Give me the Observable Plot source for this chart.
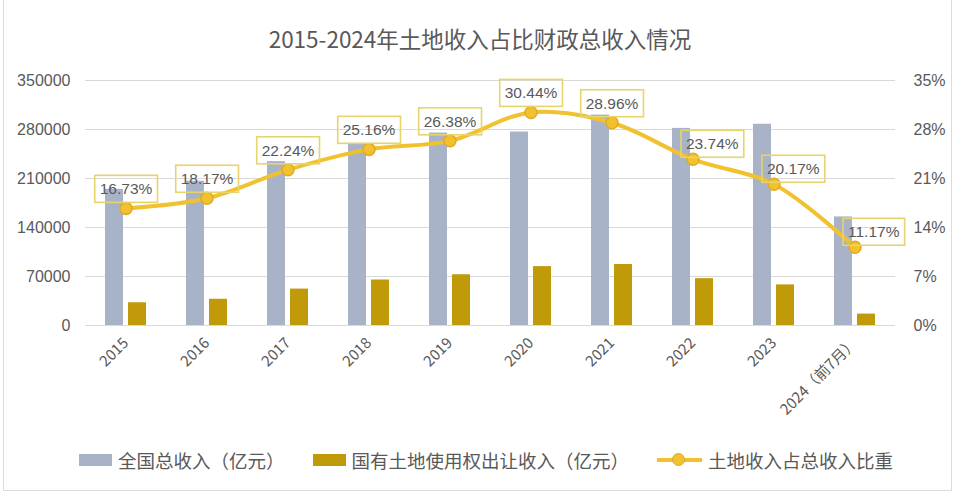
<!DOCTYPE html>
<html><head><meta charset="utf-8">
<script src="https://cdn.jsdelivr.net/npm/d3@7"></script>
<script src="https://cdn.jsdelivr.net/npm/@observablehq/plot@0.6"></script>
<style>
body{margin:0;background:#fff;}
#wrap{position:relative;width:960px;height:495px;overflow:hidden;font-family:"Noto Sans CJK SC","Noto Sans",sans-serif;background:#fff;}
#frame{position:absolute;left:3px;top:-2px;width:949px;height:493px;border:1px solid #dcdcdc;border-top:none;box-sizing:border-box;}
#title{position:absolute;top:23px;left:0;width:960px;text-align:center;font-size:22.5px;line-height:30px;color:#595959;}
#chart{position:absolute;top:65px;left:0;}
#legend{position:absolute;top:447px;left:79px;display:flex;align-items:center;font-size:18.5px;color:#595959;white-space:nowrap;}
#legend .item{display:flex;align-items:center;margin-right:28px;}
#legend .sw{display:inline-block;width:33px;height:12px;margin-right:6px;}
#legend .ln{position:relative;display:inline-block;width:45px;height:14px;margin-right:6px;}
#legend .ln i{position:absolute;left:0;right:0;top:5px;height:4px;}
#legend .ln b{position:absolute;left:15px;top:0;width:13px;height:13px;border-radius:50%;box-sizing:border-box;}
</style>
</head><body>
<div id="wrap">
  <div id="frame"></div>
  <div id="title"></div>
  <div id="chart"></div>
  <div id="legend"></div>
</div>
<script>
const titleText = "2015-2024年土地收入占比财政总收入情况";
const years = ["2015","2016","2017","2018","2019","2020","2021","2022","2023","2024（前7月）"];
const totalRevenue = [194500, 206100, 234100, 258700, 274900, 276400, 300600, 281600, 287500, 155100];
const landRevenue  = [32500, 37500, 52000, 65000, 72500, 84100, 87100, 66900, 58000, 16300];
const landShare    = [16.73, 18.17, 22.24, 25.16, 26.38, 30.44, 28.96, 23.74, 20.17, 11.17];
const leftTicks = [0, 70000, 140000, 210000, 280000, 350000];
const rightTickLabels = ["0%", "7%", "14%", "21%", "28%", "35%"];
const seriesNames = ["全国总收入（亿元）", "国有土地使用权出让收入（亿元）", "土地收入占总收入比重"];

const colors = {total:"#a9b3c8", land:"#c09a08", line:"#f2c12e", dotStroke:"#e3a826", box:"#e6d46c", text:"#595959", grid:"#d9d9d9"};
const pctUnit = 10000; // 1% on the right axis = 10000 on the left axis

const data = years.map((year, i) => ({year, total: totalRevenue[i], land: landRevenue[i], share: landShare[i], idx: i}));
const yShare = d => d.share * pctUnit;
const fmtPct = d => d.share.toFixed(2) + "%";

document.getElementById("title").textContent = titleText;

const svg = Plot.plot({
  width: 960,
  height: 370,
  marginTop: 15,
  marginBottom: 110,
  marginLeft: 85,
  marginRight: 65,
  x: {domain: years, padding: 0},
  y: {domain: [0, 350000]},
  style: {fontFamily: "'Liberation Sans','Noto Sans CJK SC',sans-serif", color: colors.text, background: "transparent"},
  marks: [
    Plot.gridY(leftTicks, {stroke: colors.grid, strokeOpacity: 1, strokeWidth: 1.2}),
    Plot.barY(data, {x: "year", y: "total", fill: colors.total, insetLeft: 20, insetRight: 43}),
    Plot.barY(data, {x: "year", y: "land", fill: colors.land, insetLeft: 43, insetRight: 20}),
    Plot.line(data, {x: "year", y: yShare, stroke: colors.line, strokeWidth: 4, curve: "catmull-rom"}),
    Plot.dot(data, {x: "year", y: yShare, r: 6, fill: colors.line, stroke: colors.dotStroke, strokeWidth: 1.5}),
    Plot.text(data.filter(d => d.idx <= 6), {x: "year", y: yShare, text: fmtPct, dy: -19, fontSize: 15.5, fill: colors.text}),
    Plot.text(data.filter(d => d.idx > 6), {x: "year", y: yShare, text: fmtPct, dy: -15, dx: -7, textAnchor: "start", fontSize: 15.5, fill: colors.text}),
    Plot.axisY(leftTicks, {anchor: "left", tickSize: 0, tickPadding: 15, fontSize: 16, tickFormat: d => String(d), label: null}),
    Plot.axisY(leftTicks, {anchor: "right", tickSize: 0, tickPadding: 18, fontSize: 16, tickFormat: d => rightTickLabels[leftTicks.indexOf(d)], label: null}),
    Plot.axisX({tickRotate: -45, tickSize: 0, tickPadding: 15, fontSize: 15, label: null})
  ]
});
document.getElementById("chart").append(svg);

svg.querySelectorAll('text').forEach(t => {
  // category labels in a CJK font (full-width brackets)
  if (years.includes(t.textContent)) {
    t.style.fontFamily = "'Noto Sans CJK SC', sans-serif";
    return;
  }
  // label boxes sized from the rendered label text
  if (!/^\d+\.\d\d%$/.test(t.textContent)) return;
  const b = t.getBBox();
  const r = document.createElementNS("http://www.w3.org/2000/svg", "rect");
  r.setAttribute("x", b.x - 5);
  r.setAttribute("y", b.y - 5);
  r.setAttribute("width", b.width + 10);
  r.setAttribute("height", b.height + 10);
  const tr = t.getAttribute("transform");
  if (tr) r.setAttribute("transform", tr);
  r.setAttribute("fill", "none");
  r.setAttribute("stroke", colors.box);
  r.setAttribute("stroke-width", 1.6);
  t.parentNode.insertBefore(r, t);
});

// legend
const legend = document.getElementById("legend");
const legendColors = [colors.total, colors.land];
seriesNames.forEach((name, i) => {
  const item = document.createElement("div");
  item.className = "item";
  if (i < 2) {
    const sw = document.createElement("span");
    sw.className = "sw";
    sw.style.background = legendColors[i];
    item.append(sw);
  } else {
    const ln = document.createElement("span");
    ln.className = "ln";
    const li = document.createElement("i"); li.style.background = colors.line;
    const dot = document.createElement("b"); dot.style.background = colors.line; dot.style.border = "1.5px solid " + colors.dotStroke;
    ln.append(li, dot);
    item.append(ln);
  }
  const label = document.createElement("span");
  label.textContent = name;
  item.append(label);
  legend.append(item);
});
</script>
</body></html>
